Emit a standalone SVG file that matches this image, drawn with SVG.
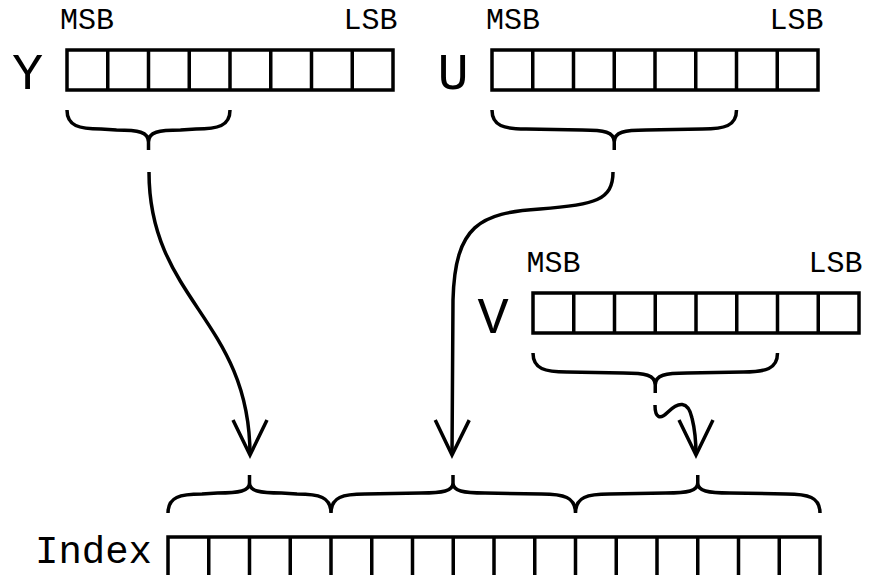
<svg xmlns="http://www.w3.org/2000/svg" width="869" height="575" viewBox="0 0 869 575">
<style>
.reg{fill:#fff;stroke:#000;stroke-width:3.5}
.cell{fill:none;stroke:#000;stroke-width:3.5}
.brace{fill:none;stroke:#000;stroke-width:3.5}
.conn{fill:none;stroke:#000;stroke-width:3.5;marker-end:url(#arr)}
.lbl{font-family:"Liberation Mono","Courier New",monospace;fill:#000;text-anchor:middle}
.big{font-size:52px}
.idx{font-size:39px}
.bit{font-size:30px}
</style>
<defs>
<marker id="arr" markerUnits="userSpaceOnUse" markerWidth="50" markerHeight="50" viewBox="-40 -25 50 50" refX="0" refY="0" orient="auto" overflow="visible">
<path d="M -35 -17 L 0 0 L -35 17" fill="none" stroke="#000" stroke-width="3.5"/>
</marker>
</defs>
<rect width="869" height="575" fill="#fff"/>
<g id="reg-y">
<text class="lbl big" x="27.5" y="89">Y</text>
<text class="lbl bit" x="87" y="29">MSB</text>
<text class="lbl bit" x="370.5" y="29">LSB</text>
<rect class="reg" x="67" y="50" width="326" height="40"/>
<path class="cell" d="M107.75 50V90M148.5 50V90M189.25 50V90M230 50V90M270.75 50V90M311.5 50V90M352.25 50V90"/>
<path class="brace" d="M67 110C67 126 79 129 101 129L116.5 130C138.5 130 148.5 132 148.5 142L148.5 150M148.5 142C148.5 132 158.5 130 180.5 130L196 129C218 129 230 126 230 110"/>
</g>
<g id="reg-u">
<text class="lbl big" x="453" y="89">U</text>
<text class="lbl bit" x="513" y="29">MSB</text>
<text class="lbl bit" x="796.5" y="29">LSB</text>
<rect class="reg" x="492" y="50" width="326" height="40"/>
<path class="cell" d="M532.75 50V90M573.5 50V90M614.25 50V90M655 50V90M695.75 50V90M736.5 50V90M777.25 50V90"/>
<path class="brace" d="M492 110C492 126 504 129 526 129L582.25 130C604.25 130 614.25 132 614.25 142L614.25 150M614.25 142C614.25 132 624.25 130 646.25 130L702.5 129C724.5 129 736.5 126 736.5 110"/>
</g>
<g id="reg-v">
<text class="lbl big" x="493" y="333">V</text>
<text class="lbl bit" x="553.5" y="272">MSB</text>
<text class="lbl bit" x="835.5" y="272">LSB</text>
<rect class="reg" x="533" y="293" width="326" height="40"/>
<path class="cell" d="M573.75 293V333M614.5 293V333M655.25 293V333M696 293V333M736.75 293V333M777.5 293V333M818.25 293V333"/>
<path class="brace" d="M533 353C533 369 545 372 567 372L623.25 373C645.25 373 655.25 375 655.25 385L655.25 393M655.25 385C655.25 375 665.25 373 687.25 373L743.5 372C765.5 372 777.5 369 777.5 353"/>
</g>
<g id="reg-index">
<text class="lbl idx" x="93.5" y="563">Index</text>
<rect class="reg" x="168" y="537" width="652" height="42"/>
<path class="cell" d="M208.75 537V579M249.5 537V579M290.25 537V579M331 537V579M371.75 537V579M412.5 537V579M453.25 537V579M494 537V579M534.75 537V579M575.5 537V579M616.25 537V579M657 537V579M697.75 537V579M738.5 537V579M779.25 537V579"/>
<path class="brace" d="M168 513C168 497 180 494 202 494L217.5 493C239.5 493 249.5 491 249.5 483L249.5 475M249.5 483C249.5 491 259.5 493 281.5 493L297 494C319 494 331 497 331 513C331 497 343 494 365 494L421 493C443 493 453 491 453 483L453 475M453 483C453 491 463 493 485 493L541.5 494C563.5 494 575.5 497 575.5 513C575.5 497 587.5 494 609.5 494L665.75 493C687.75 493 697.75 491 697.75 483L697.75 475M697.75 483C697.75 491 707.75 493 729.75 493L786 494C808 494 820 497 820 513"/>
</g>
<g id="connectors">
<path class="conn" d="M149 172C149 300 250 320 250 455"/>
<path class="conn" d="M613 172C613 200 595 205 540 209C480 213 455 225 453 300L452 455"/>
<path class="conn" d="M655 405C655 418 660 420 668 412C678 402 688 400 692 418C695 430 696 440 696 455"/>
</g>
</svg>
